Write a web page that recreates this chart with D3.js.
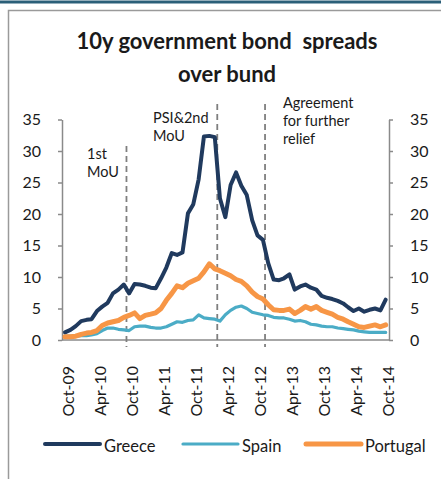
<!DOCTYPE html>
<html>
<head>
<meta charset="utf-8">
<script src="https://cdn.jsdelivr.net/npm/d3@7"></script>
<style>
  html, body { margin: 0; padding: 0; background: #fff; }
  svg { display: block; }
  text { font-family: Lato, "Open Sans", sans-serif; fill: #1a1a1a; }
</style>
</head>
<body>
<svg id="chart" width="441" height="479"></svg>
<script>
// 10-year government bond spreads over the German bund, monthly, Oct 2009 – Oct 2014 (percentage points)
const firstMonth = "2009-10";
const lastMonth = "2014-10";

const greece = [
  1.2, 1.6, 2.2, 3.0, 3.2, 3.3, 4.6, 5.3, 5.9, 7.4, 8.0, 8.8, 7.4,
  8.9, 8.8, 8.6, 8.3, 8.2, 9.8, 11.5, 13.8, 13.5, 13.9, 20.1, 21.5,
  25.5, 32.3, 32.4, 32.2, 22.5, 19.5, 24.6, 26.6, 24.5, 23.0, 19.0,
  16.6, 15.9, 12.2, 9.6, 9.5, 9.8, 10.4, 8.0, 8.5, 8.8, 8.3, 8.0,
  7.0, 6.7, 6.5, 6.2, 5.8, 5.2, 4.6, 5.0, 4.5, 4.8, 5.0, 4.7, 6.4
];
const spain = [
  0.6, 0.6, 0.6, 0.7, 0.7, 0.8, 1.0, 1.5, 1.9, 1.9, 1.7, 1.6, 1.5,
  2.1, 2.2, 2.2, 2.0, 1.9, 1.9, 2.1, 2.5, 2.9, 2.8, 3.1, 3.2,
  4.0, 3.5, 3.4, 3.3, 3.0, 4.0, 4.7, 5.2, 5.4, 5.0, 4.4,
  4.2, 4.0, 3.9, 3.6, 3.5, 3.5, 3.3, 3.0, 3.1, 2.9, 2.5, 2.4,
  2.2, 2.1, 2.1, 1.9, 1.8, 1.7, 1.6, 1.4, 1.3, 1.2, 1.2, 1.2, 1.2
];
const portugal = [
  0.5, 0.5, 0.6, 0.9, 1.1, 1.2, 1.5, 2.3, 2.7, 2.9, 3.1, 3.6, 3.9,
  4.3, 3.4, 3.9, 4.1, 4.3, 5.0, 6.3, 7.4, 8.6, 8.3, 9.0, 9.4,
  9.8, 10.8, 12.1, 11.3, 11.0, 10.6, 10.2, 9.6, 9.3, 8.6, 7.6,
  6.9, 6.5, 5.6, 4.8, 4.7, 4.7, 4.9, 4.2, 4.7, 5.3, 4.9, 5.3,
  4.7, 4.4, 4.1, 3.6, 3.3, 2.9, 2.5, 2.1, 2.0, 2.2, 2.4, 2.1, 2.4
];

const seriesNames = ["Greece", "Spain", "Portugal"];
const seriesColors = ["#203a5e", "#4bacc6", "#f79646"];
const seriesWidths = [4, 3.2, 5];

const xTickLabels = ["Oct-09", "Apr-10", "Oct-10", "Apr-11", "Oct-11", "Apr-12",
                     "Oct-12", "Apr-13", "Oct-13", "Apr-14", "Oct-14"];
const yTicks = [0, 5, 10, 15, 20, 25, 30, 35];

// Programme milestones marked with dashed verticals
const eventDates = ["2010-09-16", "2012-02-15", "2012-11-13"];
const eventLabels = [["1st", "MoU"], ["PSI&2nd", "MoU"], ["Agreement", "for further", "relief"]];

const parseMonth = d3.timeParse("%Y-%m");
const parseDay = d3.timeParse("%Y-%m-%d");
const parseTick = d3.timeParse("%b-%y");

const months = d3.timeMonth.range(parseMonth(firstMonth), d3.timeMonth.offset(parseMonth(lastMonth), 1));

const svg = d3.select("#chart");

// outer frame
svg.append("line").attr("x1", 0).attr("x2", 441).attr("y1", 2).attr("y2", 2)
  .attr("stroke", "#2b5f78").attr("stroke-width", 3);
svg.append("path").attr("d", "M8.5,479 V10.5 H441")
  .attr("fill", "none").attr("stroke", "#9a9a9a").attr("stroke-width", 1.5);

const x = d3.scaleTime()
  .domain([parseMonth(firstMonth), parseMonth(lastMonth)])
  .range([65, 385.7]);
const y = d3.scaleLinear().domain([0, 35]).range([340, 119.5]);

const plotLeft = 62, plotRight = 389;

// title
const title = svg.append("text").attr("text-anchor", "middle")
  .style("font-weight", "bold").style("font-size", "22px");
title.append("tspan").attr("x", 227).attr("y", 49).text("10y government bond\u00a0 spreads");
title.append("tspan").attr("x", 227).attr("y", 82).text("over bund");

// axes
const axisColor = "#8a8a8a";
const leftAxis = svg.append("g").attr("transform", `translate(${plotLeft},0)`)
  .call(d3.axisLeft(y).tickValues(yTicks).tickSize(4).tickPadding(17).tickSizeOuter(0));
const rightAxis = svg.append("g").attr("transform", `translate(${plotRight},0)`)
  .call(d3.axisRight(y).tickValues(yTicks).tickSize(4).tickPadding(17).tickSizeOuter(0));
[leftAxis, rightAxis].forEach(g => {
  g.select(".domain").attr("stroke", axisColor).attr("stroke-width", 1.5);
  g.selectAll(".tick line").attr("stroke", axisColor).attr("stroke-width", 1.5);
  g.selectAll(".tick text").style("font-size", "16px").style("font-family", "Lato, sans-serif").attr("fill", "#1a1a1a");
});
svg.append("line").attr("x1", plotLeft).attr("x2", plotRight)
  .attr("y1", y(0)).attr("y2", y(0))
  .attr("stroke", axisColor).attr("stroke-width", 1.5);

// category labels, rotated
svg.append("g").selectAll("text").data(xTickLabels).join("text")
  .attr("transform", d => `translate(${x(parseTick(d)) + 3},366) rotate(-90)`)
  .attr("text-anchor", "end").attr("dy", "0.35em")
  .style("font-size", "16px").text(d => d);

// event markers
const eventTops = [146, 104, 104];
const events = svg.append("g");
eventDates.forEach((d, i) => {
  const ex = x(parseDay(d));
  events.append("line").attr("x1", ex).attr("x2", ex)
    .attr("y1", eventTops[i]).attr("y2", 347)
    .attr("stroke", "#7f7f7f").attr("stroke-width", 1.8)
    .attr("stroke-dasharray", "6,4");
});
const labelAnchors = [[87, 154], [153, 118], [283, 103]];
eventLabels.forEach((lines, i) => {
  const t = svg.append("text").style("font-size", "14.5px");
  lines.forEach((s, j) => {
    t.append("tspan").attr("x", labelAnchors[i][0]).attr("y", labelAnchors[i][1] + j * 18)
      .attr("dy", "0.35em").text(s);
  });
});

// series lines
const line = d3.line().x((d, i) => x(months[i])).y(d => y(d));
[greece, spain, portugal].forEach((vals, k) => {
  svg.append("path").datum(vals)
    .attr("d", line)
    .attr("fill", "none")
    .attr("stroke", seriesColors[k])
    .attr("stroke-width", seriesWidths[k])
    .attr("stroke-linejoin", "round")
    .attr("stroke-linecap", "round");
});

// legend
const legendX = [45, 183, 306];
const legend = svg.append("g");
seriesNames.forEach((name, k) => {
  legend.append("line").attr("x1", legendX[k]).attr("x2", legendX[k] + 55)
    .attr("y1", 444).attr("y2", 444)
    .attr("stroke", seriesColors[k]).attr("stroke-width", seriesWidths[k])
    .attr("stroke-linecap", "round");
  legend.append("text").attr("x", legendX[k] + 59).attr("y", 446.5)
    .attr("dy", "0.35em").style("font-size", "16.5px").text(name);
});
</script>
</body>
</html>
